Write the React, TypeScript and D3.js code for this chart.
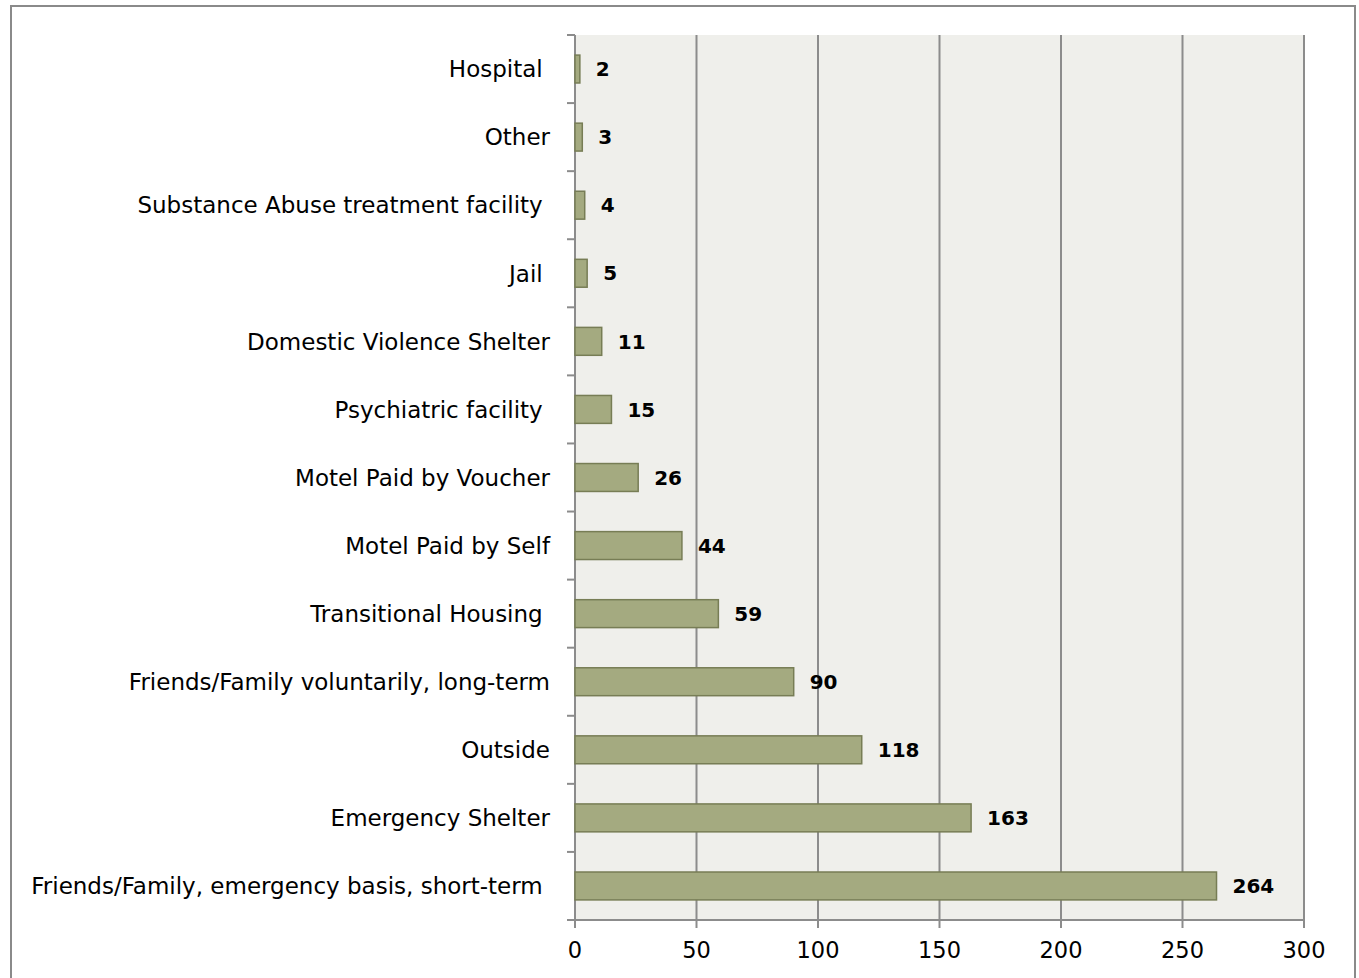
import React from "react";
import * as d3 from "d3";

const categories = [
  "Hospital ",
  "Other",
  "Substance Abuse treatment facility ",
  "Jail ",
  "Domestic Violence Shelter",
  "Psychiatric facility ",
  "Motel Paid by Voucher",
  "Motel Paid by Self",
  "Transitional Housing ",
  "Friends/Family voluntarily, long-term",
  "Outside",
  "Emergency Shelter",
  "Friends/Family, emergency basis, short-term ",
];
const values = [2, 3, 4, 5, 11, 15, 26, 44, 59, 90, 118, 163, 264];
const xTicks = [0, 50, 100, 150, 200, 250, 300];

const W = 1359;
const H = 978;
const FONT = "'DejaVu Sans', sans-serif";

export default function App() {
  const x = d3.scaleLinear().domain([0, 300]).range([575, 1304]);
  const y = d3
    .scaleBand<string>()
    .domain(categories)
    .range([35, 920])
    .paddingInner(0.59)
    .paddingOuter(0.295);
  const step = y.step();
  const top = 35;
  const bottom = 920;
  const boundaries = d3.range(categories.length + 1).map((i) => top + i * step);

  return (
    <svg
      width={W}
      height={H}
      style={{ position: "absolute", left: 0, top: 0, display: "block", background: "#fff" }}
    >
      <rect x={11} y={6} width={1344} height={H + 20} fill="#fff" stroke="#8a8a8a" strokeWidth={2} />
      <rect x={x(0)} y={top} width={x(300) - x(0)} height={bottom - top} fill="#efefeb" />
      {xTicks.slice(1).map((t) => (
        <line key={"g" + t} x1={x(t)} x2={x(t)} y1={top} y2={bottom} stroke="#8c8c8c" strokeWidth={2} />
      ))}
      {xTicks.map((t) => (
        <g key={"t" + t}>
          <line x1={x(t)} x2={x(t)} y1={bottom} y2={bottom + 8} stroke="#8c8c8c" strokeWidth={2} />
          <text x={x(t)} y={958} textAnchor="middle" fontFamily={FONT} fontSize={22.5} fill="#000">
            {t}
          </text>
        </g>
      ))}
      <line x1={x(0) - 8} x2={x(300)} y1={bottom} y2={bottom} stroke="#8c8c8c" strokeWidth={2} />
      <line x1={x(0)} x2={x(0)} y1={top} y2={bottom} stroke="#8c8c8c" strokeWidth={2} />
      {boundaries.map((b, i) => (
        <line key={"b" + i} x1={x(0) - 8} x2={x(0)} y1={b} y2={b} stroke="#8c8c8c" strokeWidth={2} />
      ))}
      {categories.map((c, i) => {
        const yy = y(c)!;
        const bw = y.bandwidth();
        const cy = yy + bw / 2;
        return (
          <g key={c}>
            <rect
              x={x(0)}
              y={yy}
              width={x(values[i]) - x(0)}
              height={bw}
              fill="#a4aa80"
              stroke="#777d55"
              strokeWidth={1.5}
            />
            <text
              x={x(values[i]) + 16}
              y={cy}
              dy="0.36em"
              fontFamily={FONT}
              fontWeight="bold"
              fontSize={20}
              fill="#000"
            >
              {values[i]}
            </text>
            <text
              x={550}
              y={cy}
              dy="0.36em"
              textAnchor="end"
              fontFamily={FONT}
              fontSize={23}
              fill="#000"
              style={{ whiteSpace: "pre" }}
            >
              {c}
            </text>
          </g>
        );
      })}
    </svg>
  );
}
